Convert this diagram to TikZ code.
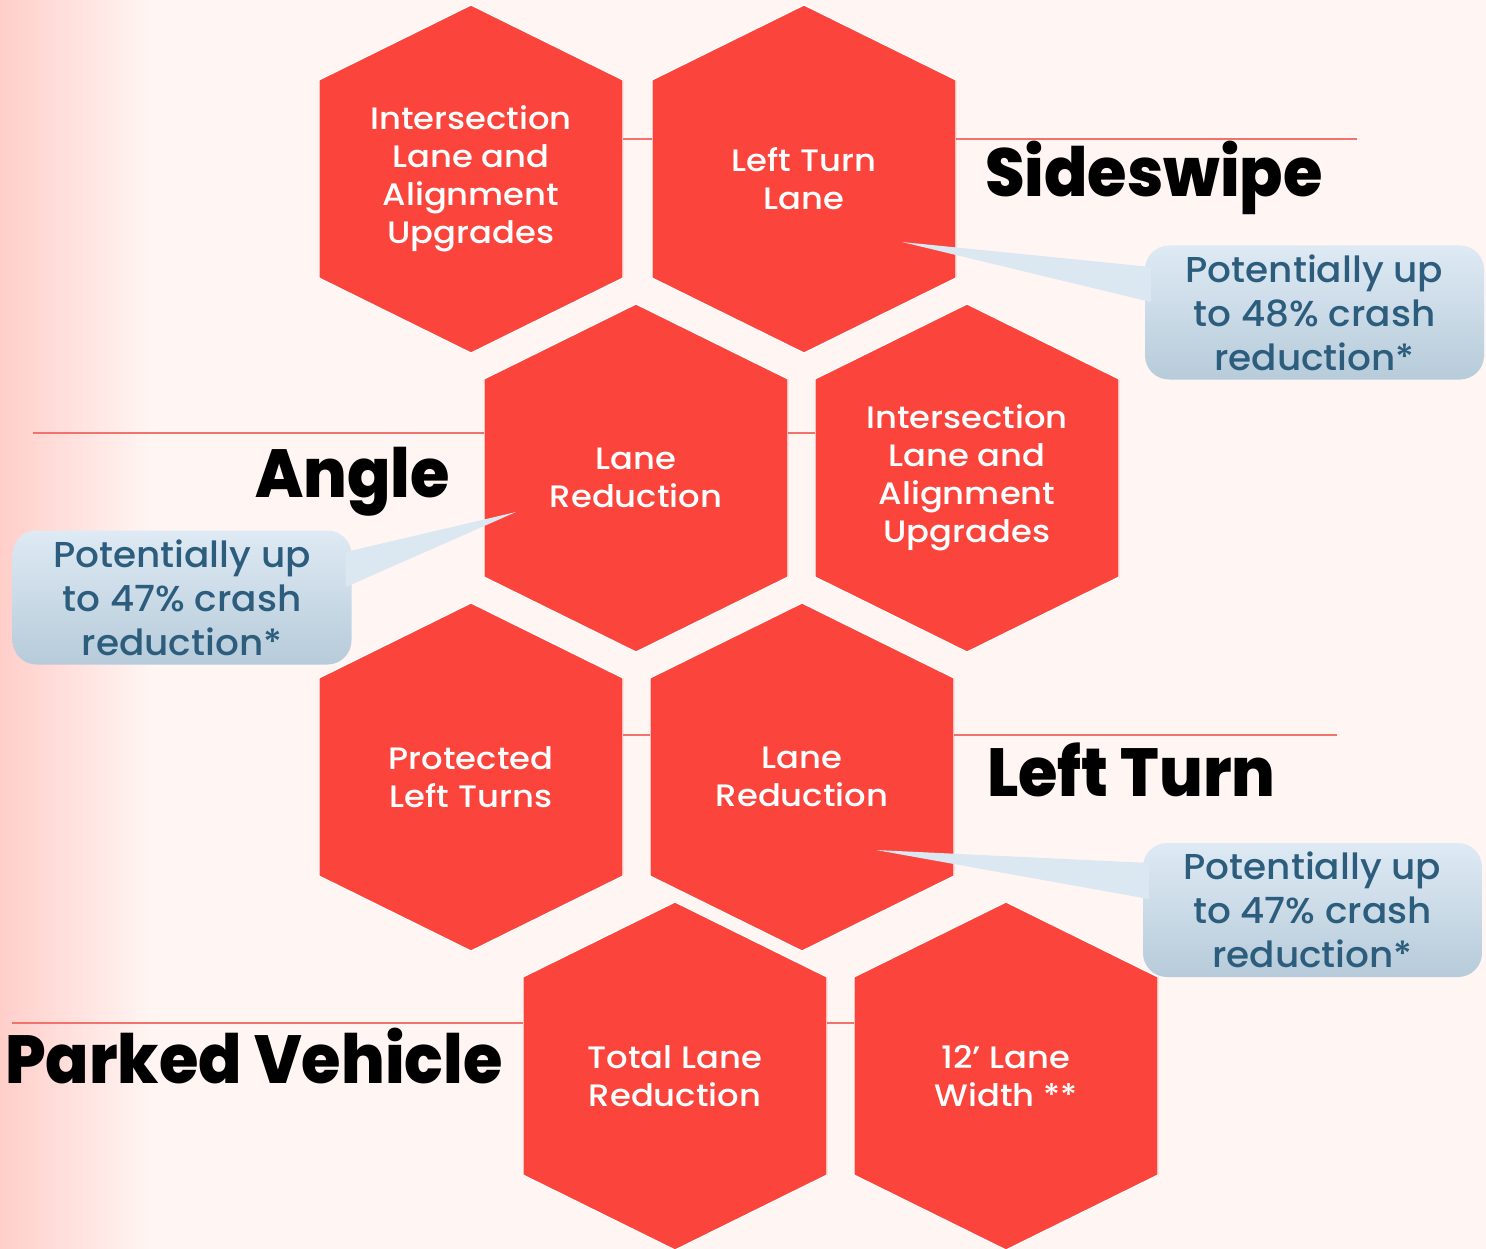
\documentclass[tikz,border=0pt]{standalone}
\usepackage{fontspec}
\setmainfont{Poppins}
\IfFontExistsTF{Poppins Medium}{%
  \newfontfamily\hexfont{Poppins Medium}[FakeStretch=1.09]
  \newfontfamily\callfont{Poppins Medium}[FakeStretch=1.04]
}{%
  \newfontfamily\hexfont{Poppins}[FakeStretch=1.1,FakeBold=0.6]
  \newfontfamily\callfont{Poppins}[FakeStretch=1.05,FakeBold=0.6]
}
\IfFontExistsTF{Poppins ExtraBold}{%
  \newfontfamily\titlefont{Poppins ExtraBold}[FakeStretch=0.94]
}{%
  \newfontfamily\titlefont{Poppins Bold}[FakeStretch=0.955]
}
\usetikzlibrary{calc}
\definecolor{hexred}{RGB}{250,68,60}
\definecolor{rulered}{RGB}{240,115,110}
\definecolor{bgL}{RGB}{255,206,201}
\definecolor{bgR}{RGB}{255,245,243}
\definecolor{callTop}{RGB}{222,234,244}
\definecolor{callBot}{RGB}{183,203,218}
\definecolor{callText}{RGB}{45,93,125}
\definecolor{pointerFill}{RGB}{219,232,242}
\begin{document}
\begin{tikzpicture}[x=1pt,y=-1pt,
  hexcell/.style={minimum width=304pt, minimum height=348pt, inner sep=0pt,
    align=center, text=white, font=\hexfont\fontsize{31}{38}\selectfont,
    path picture={\fill[hexred, draw=white, line width=1.2pt]
      (path picture bounding box.north)
      -- ($(path picture bounding box.north east)+(0pt,-75pt)$)
      -- ($(path picture bounding box.south east)+(0pt,75pt)$)
      -- (path picture bounding box.south)
      -- ($(path picture bounding box.south west)+(0pt,75pt)$)
      -- ($(path picture bounding box.north west)+(0pt,-75pt)$)
      -- cycle;}},
  rule/.style={draw=rulered, line width=1.3pt},
  title/.style={font=\titlefont\fontsize{68}{80}\selectfont, text=black, inner sep=0pt},
  callout/.style={rounded corners=24pt, top color=callTop, bottom color=callBot,
    minimum width=339pt, minimum height=134pt, text=callText, align=center,
    font=\callfont\fontsize{36}{44}\selectfont, inner sep=0pt},
  pointer/.style={fill=pointerFill}
]
% background
\useasboundingbox (0,0) rectangle (1486,1249);
\fill[bgR] (0,0) rectangle (1486,1249);
\shade[left color=bgL, right color=bgR] (0,0) rectangle (150,1249);

% hexagons
\node[hexcell] (h1) at (471,179) {Intersection\\Lane and\\Alignment\\Upgrades};
\node[hexcell] (h2) at (804,179) {Left Turn\\Lane};
\node[hexcell] (h3) at (636,478) {Lane\\Reduction};
\node[hexcell] (h4) at (967,478) {Intersection\\Lane and\\Alignment\\Upgrades};
\node[hexcell] (h5) at (471,777) {Protected\\Left Turns};
\node[hexcell] (h6) at (802,777) {Lane\\Reduction};
\node[hexcell] (h7) at (675,1076) {Total Lane\\Reduction};
\node[hexcell] (h8) at (1006,1076) {12’ Lane\\Width **};

% rules
\coordinate (r1) at (1357,139);
\coordinate (r2) at (33,433);
\coordinate (r3) at (1337,735);
\coordinate (r4) at (12,1023);
\draw[rule] (h1.east |- r1) -- (h2.west |- r1);
\draw[rule] (h2.east |- r1) -- (r1);
\draw[rule] (r2) -- (h3.west |- r2);
\draw[rule] (h3.east |- r2) -- (h4.west |- r2);
\draw[rule] (h5.east |- r3) -- (h6.west |- r3);
\draw[rule] (h6.east |- r3) -- (r3);
\draw[rule] (r4) -- (h7.west |- r4);
\draw[rule] (h7.east |- r4) -- (h8.west |- r4);

% titles
\node[title, anchor=base west] (t1) at (985,197) {Sideswipe};
\node[title, anchor=base east] (t2) at (450,497) {Angle};
\node[title, anchor=base west] (t3) at (987,796) {Left Turn};
\node[title, anchor=base east] (t4) at (503,1083) {Parked Vehicle};

% callouts
\node[callout] (c1) at (1314.5,312.5) {Potentially up\\to 48\% crash\\reduction*};
\node[callout] (c2) at (182,597.5) {Potentially up\\to 47\% crash\\reduction*};
\node[callout] (c3) at (1312.5,910) {Potentially up\\to 47\% crash\\reduction*};

\coordinate (p1) at (902,242);
\coordinate (p2) at (516,512);
\coordinate (p3) at (876,850);
\fill[pointer] (p1) -- ($(c1.west)+(6,-45.5)$) -- ($(c1.west)+(6,-10.5)$) -- cycle;
\fill[pointer] (p2) -- ($(c2.east)+(-6,-45.5)$) -- ($(c2.east)+(-6,-10.5)$) -- cycle;
\fill[pointer] (p3) -- ($(c3.west)+(6,-47)$) -- ($(c3.west)+(6,-11)$) -- cycle;
\end{tikzpicture}
\end{document}
